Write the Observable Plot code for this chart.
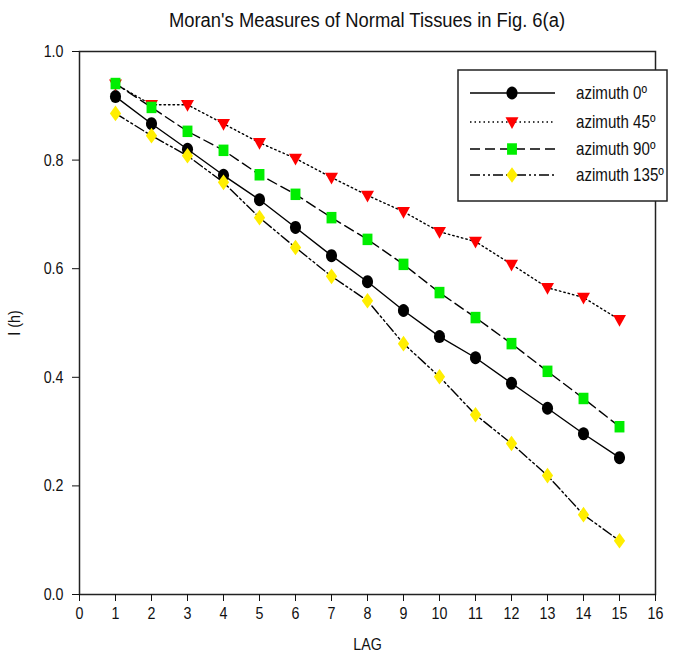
<!DOCTYPE html>
<html><head><meta charset="utf-8">
<script src="https://cdn.jsdelivr.net/npm/d3@7"></script>
<script src="https://cdn.jsdelivr.net/npm/@observablehq/plot@0.6"></script>
<style>
body{margin:0;background:#fff;font-family:"Liberation Sans",Arial,sans-serif;}
#wrap{position:relative;width:677px;height:654px;overflow:hidden;}
#title{position:absolute;left:79px;width:576px;top:9px;text-align:center;font-size:20px;color:#111;transform:scaleX(0.92);transform-origin:center;}
#chart{position:absolute;top:40px;left:0;}
#legend{position:absolute;left:457px;top:69px;}
</style></head><body>
<div id="wrap">
<div id="title">Moran's Measures of Normal Tissues in Fig. 6(a)</div>
<div id="chart"></div>
<svg id="legend" width="214" height="134"></svg>
</div>
<script>
const lags = [1,2,3,4,5,6,7,8,9,10,11,12,13,14,15];
const az0   = [0.917,0.867,0.820,0.772,0.727,0.676,0.624,0.576,0.523,0.475,0.436,0.389,0.343,0.296,0.252];
const az45  = [0.940,0.902,0.902,0.867,0.832,0.803,0.768,0.735,0.705,0.668,0.650,0.608,0.565,0.547,0.506];
const az90  = [0.941,0.897,0.853,0.818,0.773,0.737,0.694,0.654,0.608,0.556,0.510,0.462,0.411,0.361,0.309];
const az135 = [0.886,0.845,0.808,0.759,0.694,0.639,0.586,0.541,0.462,0.401,0.331,0.278,0.219,0.147,0.099];
const seriesNames = ["azimuth 0º","azimuth 45º","azimuth 90º","azimuth 135º"];
const xTicks = [0,1,2,3,4,5,6,7,8,9,10,11,12,13,14,15,16];
const yTicks = [0,0.2,0.4,0.6,0.8,1.0];

// custom symbols (slightly tall, like the reference)
const ellipseSym = {draw(ctx, size){ const r = Math.sqrt(size/Math.PI); const rx = r*0.92, ry = r*1.08;
  const n = 24; for (let i=0;i<=n;i++){ const a = 2*Math.PI*i/n; const px = rx*Math.cos(a), py = ry*Math.sin(a); i?ctx.lineTo(px,py):ctx.moveTo(px,py);} ctx.closePath(); }};
const diamondSym = {draw(ctx, size){ const h = Math.sqrt(size/1.44), w = 0.72*h;
  ctx.moveTo(0,-h); ctx.lineTo(w,0); ctx.lineTo(0,h); ctx.lineTo(-w,0); ctx.closePath(); }};
const squareSym = {draw(ctx, size){ const s = Math.sqrt(size)/2; const w = s*0.93, h = s*1.08;
  ctx.moveTo(-w,-h); ctx.lineTo(w,-h); ctx.lineTo(w,h); ctx.lineTo(-w,h); ctx.closePath(); }};
const triDownSym = {draw(ctx, size){ const w = Math.sqrt(size/Math.PI), h = w*1.8;
  ctx.moveTo(-w,-h*0.4); ctx.lineTo(w,-h*0.4); ctx.lineTo(0,h*0.6); ctx.closePath(); }};

const styles = [
  {color:"#000000", symbol:ellipseSym, r:6.0, dash:null},
  {color:"#ff0000", symbol:triDownSym, r:6.5, dash:"1.5,3"},
  {color:"#00ee00", symbol:squareSym, r:6.0, dash:"10,5"},
  {color:"#ffee00", symbol:diamondSym, r:5.3, dash:"10,3,2,3,2,3"}
];
const values = [az0, az45, az90, az135];
const series = seriesNames.map((name,k)=>({name, ...styles[k], data: lags.map((lag,i)=>({lag, I: values[k][i]}))}));

const marks = [
  Plot.frame({stroke:"#222", strokeWidth:1.5}),
  Plot.axisX({ticks:xTicks, tickSize:7, tickPadding:5, tickFormat:d=>String(d), label:"LAG", labelAnchor:"center", labelArrow:"none", labelOffset:55, fontSize:17}),
  Plot.axisY({ticks:yTicks, tickSize:7, tickPadding:9, tickFormat:d3.format(".1f"), label:"I (h)", labelAnchor:"center", labelArrow:"none", labelOffset:72, fontSize:17})
];
for (const s of series) {
  marks.push(Plot.line(s.data, {x:"lag", y:"I", stroke:"#000", strokeWidth:1.4, strokeDasharray:s.dash}));
}
for (const s of series) {
  marks.push(Plot.dot(s.data, {x:"lag", y:"I", symbol:()=>s.symbol, r:s.r, fill:s.color, stroke:"none"}));
}

const chart = Plot.plot({
  width:677, height:614,
  marginLeft:79, marginRight:22, marginTop:11, marginBottom:60,
  x:{domain:[0,16]},
  y:{domain:[0,1]},
  symbol:{type:"identity"},
  style:{fontFamily:'"Liberation Sans",Arial,sans-serif', fontSize:"17px", color:"#111", background:"white"},
  marks
});
document.getElementById("chart").appendChild(chart);

// narrow the text along its baseline to mimic the reference's condensed lettering
function condense(root, s){
  root.querySelectorAll("text").forEach(t=>{
    const bb = t.getBBox();
    const a = getComputedStyle(t).textAnchor;
    const x0 = a==="end" ? bb.x+bb.width : a==="middle" ? bb.x+bb.width/2 : bb.x;
    const prev = t.getAttribute("transform")||"";
    t.setAttribute("transform", `${prev} translate(${x0},0) scale(${s},1) translate(${-x0},0)`);
  });
}
condense(chart, 0.84);

// legend (inside plot area, drawn as overlay)
const lg = d3.select("#legend");
lg.append("rect").attr("x",1).attr("y",1).attr("width",209).attr("height",131)
  .attr("fill","white").attr("stroke","#222").attr("stroke-width",1.5);
const rowY = [24,53,80,106];
series.forEach((s,k)=>{
  const y = rowY[k];
  lg.append("line").attr("x1",13).attr("x2",98).attr("y1",y).attr("y2",y)
    .attr("stroke","#000").attr("stroke-width",1.4).attr("stroke-dasharray",s.dash);
  lg.append("path").attr("d", d3.symbol(s.symbol, Math.PI*s.r*s.r)())
    .attr("transform",`translate(55,${y})`).attr("fill",s.color);
  lg.append("text").attr("x",119).attr("y",y).attr("dy","0.36em")
    .attr("font-size",18).attr("fill","#111").text(s.name);
});
condense(document.getElementById("legend"), 0.84);
</script>
</body></html>
